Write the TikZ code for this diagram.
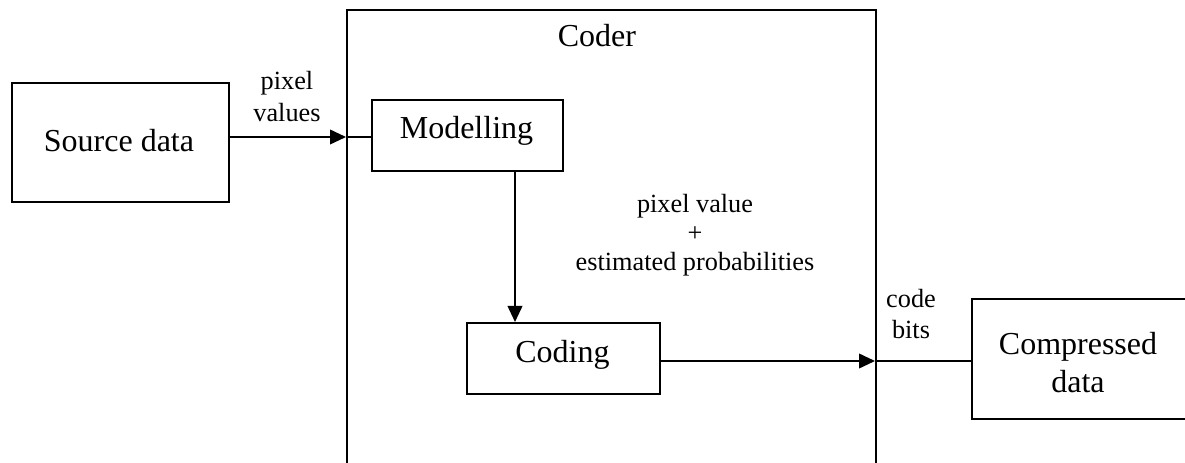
\documentclass[tikz,border=0pt]{standalone}
\usepackage{fontspec}
\setmainfont{Liberation Serif}
\usetikzlibrary{arrows.meta}
\begin{document}
\begin{tikzpicture}[x=0.75pt,y=-0.75pt,
  box/.style={draw,line width=1.3pt,rectangle,inner sep=0pt,anchor=north west},
  wire/.style={line width=1.3pt},
  arr/.style={wire,-{Triangle[length=12pt,width=11pt]}},
  big/.style={font=\fontsize{24}{28.5}\selectfont,anchor=base,inner sep=0pt},
  small/.style={font=\fontsize{19.7}{23.5}\selectfont,anchor=base,inner sep=0pt}]
\useasboundingbox (0,0) rectangle (1185,463);
\clip (0,0) rectangle (1185,463);

% blocks
\node[box,minimum width=396.75pt,minimum height=360pt] (coder) at (346,9) {};
\node[box,minimum width=162.75pt,minimum height=89.25pt] (src) at (11,82) {};
\node[box,minimum width=143.25pt,minimum height=53.25pt] (mod) at (371,99) {};
\node[box,minimum width=144.75pt,minimum height=53.25pt] (cod) at (466,322) {};
\node[box,minimum width=171.75pt,minimum height=90pt] (cmp) at (971,298) {};

% block titles
\node[big] (tcoder) at (597,47) {Coder};
\node[big] (tsrc) at (119,152) {Source data};
\node[big] (tmod) at (466.5,139) {Modelling};
\node[big] (tcod) at (562.5,362) {Coding};
\node[big] (tcmp1) at (1078,354) {Compressed};
\node[big] (tcmp2) at (1078,392) {data};

% connection points on the coder border and between blocks
\coordinate (in1) at (346,137);
\coordinate (down) at (515,0);
\coordinate (out1) at (875,361);

% connectors
\draw[arr] (src.east |- in1) -- (in1);
\draw[wire] (in1) -- (mod.west |- in1);
\draw[arr] (mod.south -| down) -- (cod.north -| down);
\draw[arr] (cod.east |- out1) -- (out1);
\draw[wire] (out1) -- (cmp.west |- out1);

% connector labels
\node[small] (l1a) at (287,90) {pixel};
\node[small] (l1b) at (287,122) {values};
\node[small] (l2a) at (695,213) {pixel value};
\node[small] (l2b) at (695,242) {+};
\node[small] (l2c) at (695,271) {estimated probabilities};
\node[small] (l3a) at (911,307) {code};
\node[small] (l3b) at (911,339) {bits};
\end{tikzpicture}
\end{document}
